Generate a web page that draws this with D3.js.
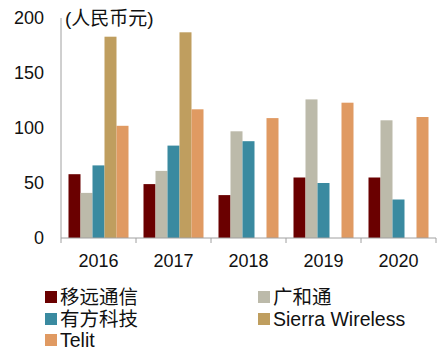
<!DOCTYPE html>
<html>
<head>
<meta charset="utf-8">
<script src="https://cdn.jsdelivr.net/npm/d3@7"></script>
<style>
  body { margin: 0; background: #fff; }
  text { font-family: "Liberation Sans", Arial, "Noto Sans CJK SC", sans-serif; fill: #111; }
</style>
</head>
<body>
<div id="chart"></div>
<script>
const years = ["2016", "2017", "2018", "2019", "2020"];
const seriesNames = ["移远通信", "广和通", "有方科技", "Sierra Wireless", "Telit"];
const seriesColors = ["#6a0000", "#bcbaaa", "#3a8aa0", "#bf9e5f", "#e09a62"];
const yiyuan = [58, 49, 39, 55, 55];
const guanghetong = [41, 61, 97, 126, 107];
const youfang = [66, 84, 88, 50, 35];
const sierra = [183, 187, null, null, null];
const telit = [102, 117, 109, 123, 110];
const yTicks = [0, 50, 100, 150, 200];
const unitLabel = "(人民币元)";

const seriesValues = [yiyuan, guanghetong, youfang, sierra, telit];

const width = 445;
const height = 354;
const margin = { top: 18, right: 9, bottom: 116, left: 61 };

const svg = d3.select("#chart")
    .append("svg")
    .attr("width", width)
    .attr("height", height);

const g = svg.append("g")
    .attr("transform", `translate(${margin.left}, ${margin.top})`);

const innerW = width - margin.left - margin.right;
const innerH = height - margin.top - margin.bottom;

const xScale = d3.scaleBand()
    .domain(years)
    .range([0, innerW]);

const xInner = d3.scaleBand()
    .domain(seriesNames)
    .range([0, xScale.bandwidth()])
    .paddingOuter(0.625);

const yScale = d3.scaleLinear()
    .domain([0, 200])
    .range([innerH, 0]);

// bars
seriesNames.forEach((name, s) => {
    g.selectAll(null)
        .data(years.map((y, i) => ({ year: y, value: seriesValues[s][i] })).filter(d => d.value != null))
        .enter()
        .append("rect")
        .attr("x", d => xScale(d.year) + xInner(name))
        .attr("y", d => yScale(d.value))
        .attr("width", xInner.bandwidth())
        .attr("height", d => innerH - yScale(d.value))
        .attr("fill", seriesColors[s]);
});

// y axis line
g.append("line")
    .attr("x1", 0).attr("x2", 0)
    .attr("y1", 0).attr("y2", innerH + 5)
    .attr("stroke", "#a0a0a0");

// x axis
g.append("line")
    .attr("x1", 0).attr("x2", innerW)
    .attr("y1", innerH).attr("y2", innerH)
    .attr("stroke", "#a0a0a0");

years.forEach((y, i) => {
    const xr = xScale(y) + xScale.bandwidth();
    g.append("line")
        .attr("x1", xr).attr("x2", xr)
        .attr("y1", innerH).attr("y2", innerH + 5)
        .attr("stroke", "#a0a0a0");
});

g.selectAll(".xlab")
    .data(years)
    .enter()
    .append("text")
    .attr("x", d => xScale(d) + xScale.bandwidth() / 2)
    .attr("y", innerH + 29)
    .attr("text-anchor", "middle")
    .style("font-size", "18px")
    .text(d => d);

g.selectAll(".ylab")
    .data(yTicks)
    .enter()
    .append("text")
    .attr("x", -17)
    .attr("y", d => yScale(d))
    .attr("dy", "0.35em")
    .attr("text-anchor", "end")
    .style("font-size", "18px")
    .text(d => d);

g.append("text")
    .attr("x", 4)
    .attr("y", 0)
    .attr("dy", "0.35em")
    .style("font-size", "19px")
    .text(unitLabel);

// legend
const legendPos = [
    [45, 297], [258, 297],
    [45, 319], [258, 319],
    [45, 340]
];
seriesNames.forEach((name, s) => {
    const [lx, ly] = legendPos[s];
    svg.append("rect")
        .attr("x", lx).attr("y", ly - 6)
        .attr("width", 12).attr("height", 12)
        .attr("fill", seriesColors[s]);
    svg.append("text")
        .attr("x", lx + 15)
        .attr("y", ly)
        .attr("dy", "0.36em")
        .style("font-size", "19.5px")
        .text(name);
});
</script>
</body>
</html>
